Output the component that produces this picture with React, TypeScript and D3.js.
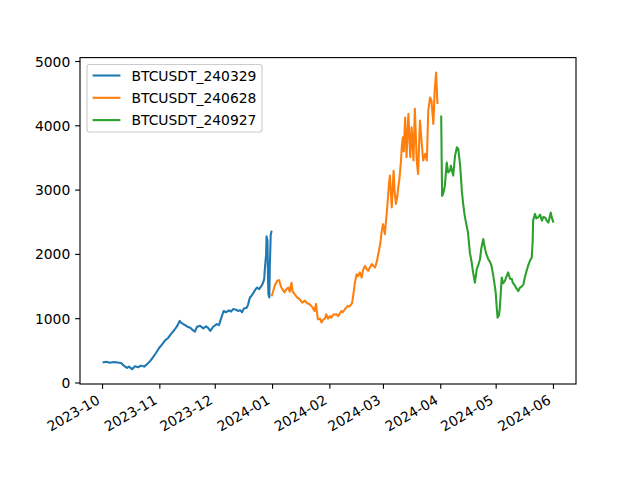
import React from 'react';
import * as d3 from 'd3';

const seriesNames = ['BTCUSDT_240329', 'BTCUSDT_240628', 'BTCUSDT_240927'];
const seriesColors = ['#1f77b4', '#ff7f0e', '#2ca02c'];
const yTickValues = [0, 1000, 2000, 3000, 4000, 5000];

const s240329: [string, number][] = [
  ['2023-10-01 00', 320], ['2023-10-03 00', 330], ['2023-10-05 00', 315], ['2023-10-07 00', 325],
  ['2023-10-09 00', 320], ['2023-10-11 00', 310], ['2023-10-12 12', 270], ['2023-10-14 06', 235],
  ['2023-10-15 06', 255], ['2023-10-17 00', 215], ['2023-10-18 12', 260], ['2023-10-20 06', 245],
  ['2023-10-21 18', 270], ['2023-10-23 12', 255], ['2023-10-25 00', 290], ['2023-10-26 18', 340],
  ['2023-10-28 06', 400], ['2023-10-30 00', 470], ['2023-10-31 12', 540], ['2023-11-02 06', 600],
  ['2023-11-03 18', 660], ['2023-11-05 12', 700], ['2023-11-07 00', 760], ['2023-11-08 18', 820],
  ['2023-11-10 06', 880], ['2023-11-11 18', 965], ['2023-11-12 12', 940], ['2023-11-13 12', 920],
  ['2023-11-15 06', 890], ['2023-11-16 06', 870], ['2023-11-17 12', 860], ['2023-11-18 12', 830],
  ['2023-11-20 00', 800], ['2023-11-21 00', 870], ['2023-11-22 18', 890], ['2023-11-24 12', 850],
  ['2023-11-26 00', 880], ['2023-11-27 00', 860], ['2023-11-28 06', 810], ['2023-11-29 18', 870],
  ['2023-12-01 18', 915], ['2023-12-03 00', 900], ['2023-12-04 00', 990], ['2023-12-05 12', 1120],
  ['2023-12-06 18', 1100], ['2023-12-08 12', 1130], ['2023-12-09 12', 1110], ['2023-12-10 18', 1150],
  ['2023-12-12 06', 1140], ['2023-12-13 06', 1120], ['2023-12-14 12', 1130], ['2023-12-15 12', 1100],
  ['2023-12-16 12', 1160], ['2023-12-18 00', 1170], ['2023-12-18 18', 1220], ['2023-12-19 18', 1330],
  ['2023-12-20 18', 1360], ['2023-12-22 00', 1420], ['2023-12-23 12', 1485], ['2023-12-24 18', 1460],
  ['2023-12-26 00', 1510], ['2023-12-26 18', 1550], ['2023-12-27 12', 1620], ['2023-12-27 18', 1745],
  ['2023-12-28 12', 2000], ['2023-12-28 18', 2280], ['2023-12-29 06', 2210], ['2023-12-29 12', 1700],
  ['2023-12-29 18', 1380], ['2023-12-30 06', 1330], ['2023-12-30 12', 1800], ['2023-12-31 00', 2300],
  ['2023-12-31 12', 2370],
];

const s240628: [string, number][] = [
  ['2023-12-31 12', 1350], ['2024-01-01 06', 1420], ['2024-01-02 06', 1520], ['2024-01-03 12', 1590],
  ['2024-01-04 12', 1600], ['2024-01-05 18', 1485], ['2024-01-06 18', 1440], ['2024-01-07 12', 1410],
  ['2024-01-08 06', 1450], ['2024-01-09 12', 1485], ['2024-01-10 06', 1420], ['2024-01-11 06', 1560],
  ['2024-01-11 18', 1430], ['2024-01-13 00', 1380], ['2024-01-14 06', 1330], ['2024-01-15 18', 1300],
  ['2024-01-17 00', 1250], ['2024-01-18 12', 1280], ['2024-01-19 18', 1240], ['2024-01-21 00', 1225],
  ['2024-01-22 12', 1180], ['2024-01-23 18', 1120], ['2024-01-24 12', 1230], ['2024-01-25 12', 990],
  ['2024-01-26 18', 1000], ['2024-01-27 12', 940], ['2024-01-28 06', 980], ['2024-01-29 12', 1010],
  ['2024-01-30 00', 1070], ['2024-01-31 00', 1000], ['2024-02-01 00', 1040], ['2024-02-01 18', 1015],
  ['2024-02-02 18', 1060], ['2024-02-04 12', 1070], ['2024-02-05 12', 1040], ['2024-02-07 06', 1120],
  ['2024-02-08 00', 1100], ['2024-02-09 06', 1150], ['2024-02-10 18', 1200], ['2024-02-11 18', 1190],
  ['2024-02-13 00', 1240], ['2024-02-13 18', 1380], ['2024-02-14 12', 1550], ['2024-02-15 12', 1690],
  ['2024-02-16 06', 1660], ['2024-02-17 06', 1720], ['2024-02-18 06', 1640], ['2024-02-19 00', 1760],
  ['2024-02-20 00', 1820], ['2024-02-20 18', 1780], ['2024-02-21 18', 1745], ['2024-02-22 18', 1800],
  ['2024-02-23 18', 1850], ['2024-02-24 12', 1820], ['2024-02-25 12', 1795], ['2024-02-26 12', 1900],
  ['2024-02-27 12', 2050], ['2024-02-28 06', 2160], ['2024-02-29 00', 2350], ['2024-02-29 18', 2470],
  ['2024-03-01 18', 2315], ['2024-03-02 18', 2630], ['2024-03-03 12', 2900], ['2024-03-04 00', 3100],
  ['2024-03-04 12', 3225], ['2024-03-05 12', 2730], ['2024-03-06 12', 3300], ['2024-03-07 00', 3000],
  ['2024-03-07 18', 2785], ['2024-03-08 12', 2900], ['2024-03-09 00', 3040], ['2024-03-09 18', 3200],
  ['2024-03-10 12', 3460], ['2024-03-11 00', 3700], ['2024-03-11 12', 3820], ['2024-03-12 00', 3600],
  ['2024-03-12 18', 4130], ['2024-03-13 12', 3510], ['2024-03-14 12', 4185], ['2024-03-15 12', 3510],
  ['2024-03-16 06', 3975], ['2024-03-17 06', 3460], ['2024-03-18 00', 4265], ['2024-03-19 00', 3460],
  ['2024-03-19 18', 3250], ['2024-03-20 18', 4080], ['2024-03-21 18', 3720], ['2024-03-22 12', 3460],
  ['2024-03-23 12', 3560], ['2024-03-24 12', 3460], ['2024-03-25 06', 4235], ['2024-03-26 06', 4440],
  ['2024-03-27 00', 4390], ['2024-03-28 00', 4030], ['2024-03-28 18', 4550], ['2024-03-29 12', 4830],
  ['2024-03-30 06', 4340],
];

const s240927: [string, number][] = [
  ['2024-04-01 06', 4160], ['2024-04-01 12', 3500], ['2024-04-01 18', 2910], ['2024-04-02 12', 2960],
  ['2024-04-03 06', 3070], ['2024-04-04 06', 3430], ['2024-04-05 00', 3275], ['2024-04-06 00', 3300],
  ['2024-04-06 12', 3380], ['2024-04-07 18', 3225], ['2024-04-08 18', 3535], ['2024-04-09 18', 3665],
  ['2024-04-10 12', 3640], ['2024-04-11 12', 3380], ['2024-04-12 12', 2965], ['2024-04-13 06', 2760],
  ['2024-04-14 00', 2600], ['2024-04-15 00', 2445], ['2024-04-15 18', 2340], ['2024-04-16 18', 2030],
  ['2024-04-17 18', 1875], ['2024-04-18 12', 1720], ['2024-04-19 12', 1560], ['2024-04-20 12', 1770],
  ['2024-04-21 12', 1850], ['2024-04-22 06', 1925], ['2024-04-23 00', 2100], ['2024-04-24 00', 2240],
  ['2024-04-25 00', 2080], ['2024-04-25 18', 2000], ['2024-04-26 18', 1925], ['2024-04-27 18', 1880],
  ['2024-04-28 12', 1820], ['2024-04-29 06', 1700], ['2024-04-30 00', 1560], ['2024-04-30 18', 1400],
  ['2024-05-01 06', 1200], ['2024-05-01 18', 1015], ['2024-05-02 12', 1050], ['2024-05-03 00', 1170],
  ['2024-05-04 00', 1640], ['2024-05-04 18', 1550], ['2024-05-05 18', 1590], ['2024-05-06 12', 1650],
  ['2024-05-07 12', 1720], ['2024-05-08 12', 1620], ['2024-05-09 12', 1615], ['2024-05-10 00', 1560],
  ['2024-05-11 06', 1510], ['2024-05-12 00', 1470], ['2024-05-13 00', 1430], ['2024-05-13 18', 1480],
  ['2024-05-14 18', 1500], ['2024-05-15 18', 1535], ['2024-05-16 12', 1640], ['2024-05-17 12', 1745],
  ['2024-05-18 06', 1820], ['2024-05-19 06', 1900], ['2024-05-20 06', 1950], ['2024-05-20 18', 2200],
  ['2024-05-21 00', 2525], ['2024-05-22 00', 2630], ['2024-05-22 18', 2560], ['2024-05-23 18', 2575],
  ['2024-05-24 18', 2620], ['2024-05-25 18', 2525], ['2024-05-26 12', 2580], ['2024-05-27 12', 2575],
  ['2024-05-28 06', 2530], ['2024-05-29 06', 2495], ['2024-05-30 00', 2580], ['2024-05-30 12', 2650],
  ['2024-05-31 06', 2560], ['2024-06-01 00', 2495],
];

const allSeries = [s240329, s240628, s240927];

const W = 640, H = 480;
const M = { left: 80, right: 576, top: 57.6, bottom: 384 };
const FS = 13.89;
const FONT = 'DejaVu Sans, sans-serif';

const parse = d3.utcParse('%Y-%m-%d %H');

export default function App() {
  const data = allSeries.map(s => s.map(([d, v]) => ({ t: parse(d) as Date, v })));
  const flat = data.flat();
  const [t0, t1] = d3.extent(flat, d => d.t) as [Date, Date];
  const [v0, v1] = d3.extent(flat, d => d.v) as [number, number];
  const tPad = (+t1 - +t0) * 0.05;
  const vPad = (v1 - v0) * 0.05;
  const x = d3.scaleUtc().domain([new Date(+t0 - tPad), new Date(+t1 + tPad)]).range([M.left, M.right]);
  const y = d3.scaleLinear().domain([v0 - vPad, v1 + vPad]).range([M.bottom, M.top]);
  const line = d3.line<{ t: Date; v: number }>().x(d => x(d.t)).y(d => y(d.v));
  const xTicks = x.ticks(d3.utcMonth.every(1) as any);
  const fmt = d3.utcFormat('%Y-%m');
  const tickLen = 4.86;
  const labelTop = M.bottom + tickLen + 4.86;
  const h = FS * 1.0;

  const legX = 87, legY = 64.5, legW = 175, legH = 67.5;

  return (
    <svg width={W} height={H} style={{ position: 'absolute', left: 0, top: 0, background: '#fff' }} fontFamily={FONT}>
      <rect x={0} y={0} width={W} height={H} fill="#fff" />
      <defs>
        <clipPath id="plotclip">
          <rect x={M.left} y={M.top} width={M.right - M.left} height={M.bottom - M.top} />
        </clipPath>
      </defs>
      <g clipPath="url(#plotclip)">
        {data.map((s, i) => (
          <path key={i} d={line(s) || ''} fill="none" stroke={seriesColors[i]} strokeWidth={2.08}
            strokeLinejoin="round" strokeLinecap="butt" />
        ))}
      </g>
      <rect x={M.left} y={M.top} width={M.right - M.left} height={M.bottom - M.top} fill="none" stroke="#000" strokeWidth={1.11} />
      {xTicks.map((t, i) => (
        <g key={i}>
          <line x1={x(t)} x2={x(t)} y1={M.bottom} y2={M.bottom + tickLen} stroke="#000" strokeWidth={1.11} />
          <g transform={`translate(${x(t) - 0.5 * h},${labelTop}) rotate(-30)`}>
            <text x={0} y={0} dy={FS * 0.76} textAnchor="end" fontSize={FS} fill="#000">{fmt(t)}</text>
          </g>
        </g>
      ))}
      {yTickValues.map((v, i) => (
        <g key={i}>
          <line x1={M.left - tickLen} x2={M.left} y1={y(v)} y2={y(v)} stroke="#000" strokeWidth={1.11} />
          <text x={M.left - tickLen - 4.86} y={y(v)} dy="0.36em" textAnchor="end" fontSize={FS} fill="#000">{v}</text>
        </g>
      ))}
      <rect x={legX} y={legY} width={legW} height={legH} rx={2.8} fill="#fff" fillOpacity={0.8} stroke="#cccccc" strokeWidth={1.11} />
      {seriesNames.map((name, i) => {
        const cy = legY + 11 + i * 22.3;
        return (
          <g key={i}>
            <line x1={legX + 5.6} x2={legX + 5.6 + 27.8} y1={cy} y2={cy} stroke={seriesColors[i]} strokeWidth={2.08} />
            <text x={legX + 5.6 + 27.8 + 11.1} y={cy} dy="0.36em" fontSize={FS} fill="#000">{name}</text>
          </g>
        );
      })}
    </svg>
  );
}
